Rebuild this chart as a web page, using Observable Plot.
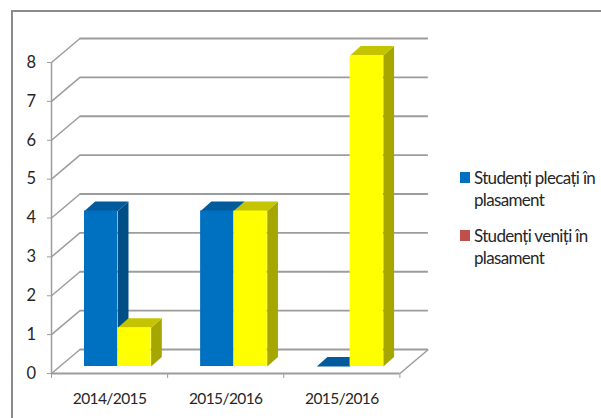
<!DOCTYPE html>
<html lang="ro">
<head>
<meta charset="utf-8">
<script src="https://cdn.jsdelivr.net/npm/d3@7"></script>
<script src="https://cdn.jsdelivr.net/npm/@observablehq/plot@0.6"></script>
<style>
  html, body { margin: 0; padding: 0; background: #fff; }
  #page { position: relative; width: 601px; height: 418px; overflow: hidden; font-family: Lato, sans-serif; }
  #border { position: absolute; left: 11px; top: 10px; width: 600px; height: 420px; border-left: 2px solid #8c8c8c; border-top: 2px solid #8c8c8c; }
  #chart { position: absolute; left: 0; top: 0; }
  #chart text { letter-spacing: -0.6px; }
  .item { position: absolute; left: 474px; font-size: 17px; line-height: 22px; letter-spacing: -0.67px; color: #262626; white-space: nowrap; }
  .key { position: absolute; left: 460px; width: 10px; height: 11px; }
</style>
</head>
<body>
<div id="page">
  <div id="border"></div>
  <div id="chart"></div>
  <div class="key" style="top:172px;background:#0070C0"></div>
  <div class="item" style="top:167px">Studenți plecați în<br>plasament</div>
  <div class="key" style="top:230px;background:#C0504D"></div>
  <div class="item" style="top:225px">Studenți veniți în<br>plasament</div>
</div>
<script>
const categories = ["2014/2015", "2015/2016", "2015/2016"];
const plecati = [4, 4, 0];
const veniti = [1, 4, 8];
const yTicks = [0, 1, 2, 3, 4, 5, 6, 7, 8];
const xTicks = [0, 1, 2, 3];
const gridColor = "#9c9c9c";

// depth of the 3D box and of the bars, in data units
const wallDx = 0.245, wallDy = 0.617;
const barDx = 0.092, barDy = 0.244;
const barStart = 0.284, barW = 0.287, floorY = 0.18;

const palettes = [
  {front: "#0070C0", side: "#004E86", top: "#005A9C"},
  {front: "#FFFF00", side: "#A6A600", top: "#C4C400"}
];

function barMarks(cat, serie, v) {
  const c = palettes[serie];
  const x1 = cat + barStart + serie * barW, x2 = x1 + barW;
  const y1 = floorY, y2 = floorY + v;
  const side = [[x2, y1], [x2 + barDx, y1 + barDy], [x2 + barDx, y2 + barDy], [x2, y2]];
  const top = [[x1, y2], [x1 + barDx, y2 + barDy], [x2 + barDx, y2 + barDy], [x2, y2]];
  const marks = [];
  if (v > 0) marks.push(Plot.line(side, {x: d => d[0], y: d => d[1], fill: c.side, stroke: "none"}));
  marks.push(Plot.line(top, {x: d => d[0], y: d => d[1], fill: c.top, stroke: "none"}));
  if (v > 0) marks.push(Plot.rect([0], {x1, x2, y1, y2, fill: c.front}));
  return marks;
}

const bars = categories.flatMap((_, i) => [
  ...barMarks(i, 0, plecati[i]),
  ...barMarks(i, 1, veniti[i])
]);

const plot = Plot.plot({
  width: 601,
  height: 418,
  marginLeft: 51,
  marginRight: 201.6,
  marginTop: 62,
  marginBottom: 45,
  style: {background: "transparent", fontFamily: "Lato, sans-serif", overflow: "visible"},
  x: {domain: [0, 3]},
  y: {domain: [0, 8]},
  marks: [
    // back wall gridlines
    Plot.ruleY(yTicks, {y: d => d + wallDy, x1: wallDx, x2: 3 + wallDx, stroke: gridColor, strokeWidth: 1.8}),
    // side wall diagonals
    Plot.link(yTicks, {x1: 0, y1: d => d, x2: wallDx, y2: d => d + wallDy, stroke: gridColor, strokeWidth: 1.5}),
    // floor front edge and right edge
    Plot.ruleY([0], {x1: 0, x2: 3, stroke: gridColor, strokeWidth: 1.8}),
    Plot.link([0], {x1: 3, y1: 0, x2: 3 + wallDx, y2: wallDy, stroke: gridColor, strokeWidth: 1.5}),
    // vertical axis line
    Plot.ruleX([0], {y1: 0, y2: 8, stroke: gridColor, strokeWidth: 1.5}),
    ...bars,
    Plot.axisY({ticks: yTicks, tickSize: 4, tickPadding: 12, label: null, fontSize: 16.5, color: "#262626", stroke: gridColor, tickFormat: d => d}),
    Plot.axisX({ticks: xTicks, tickSize: 5, label: null, stroke: gridColor, tickFormat: () => ""}),
    Plot.axisX({ticks: categories.map((_, i) => i + 0.5), tickSize: 0, tickPadding: 19, label: null, fontSize: 15.5, color: "#262626", tickFormat: (d) => categories[Math.floor(d)]})
  ]
});
document.getElementById("chart").appendChild(plot);
</script>
</body>
</html>
